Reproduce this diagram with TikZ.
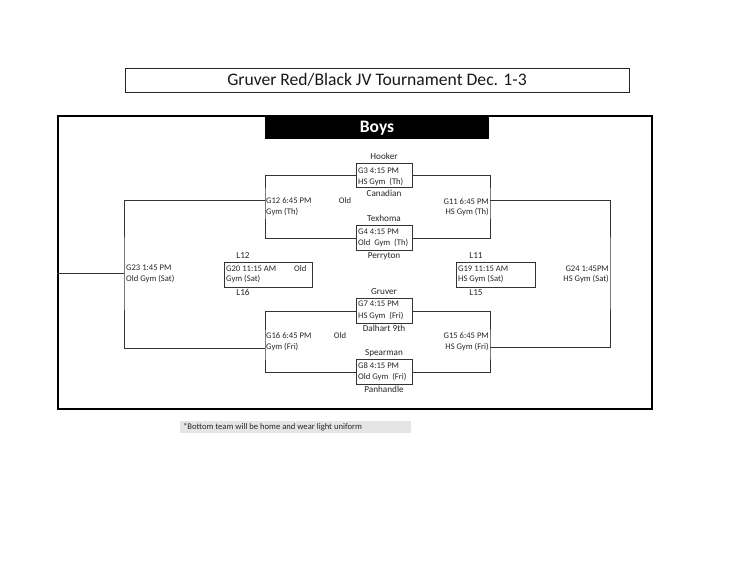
\documentclass[tikz,border=0pt]{standalone}
\usepackage{fontspec}
\setmainfont{Carlito}
\begin{document}
\begin{tikzpicture}[x=1pt,y=-1pt,
  ln/.style={line width=0.9pt, draw=black!80},
  gbox/.style={draw=black!80, line width=0.9pt, anchor=north west, inner sep=0},
  gt/.style={font=\fontsize{8.6}{9}\selectfont, inner sep=0, text height=5.5pt, text depth=0pt, anchor=west, text=black!85},
  gtr/.style={gt, anchor=east},
  team/.style={font=\fontsize{9.2}{10}\selectfont, inner sep=0, text height=5.9pt, text depth=0pt, anchor=center, text=black!85}
]
\useasboundingbox (0,0) rectangle (750,584);
\fill[white] (0,0) rectangle (750,584);
% title
\node[draw=black!85, line width=1.4pt, minimum width=504pt, minimum height=24pt, inner sep=0, anchor=north west] (title) at (125,68) {};
\node[font=\fontsize{17.6}{19}\selectfont, inner sep=0, text=black!90] (titletext) at (377,80) {Gruver Red/Black JV Tournament Dec. 1-3};
% main frame
\node[draw=black, line width=1.8pt, minimum width=594pt, minimum height=293pt, inner sep=0, anchor=north west] (frame) at (57,115) {};
\node[fill=black, minimum width=224pt, minimum height=23pt, inner sep=0, anchor=north west] (boysbar) at (265,116) {};
\node[text=white, font=\bfseries\fontsize{17.5}{19}\selectfont, inner sep=0] (boys) at (377,128) {Boys};
% first-round boxes
\node[gbox, minimum width=56pt, minimum height=24pt] (g3) at (356,163) {};
\node[gbox, minimum width=56pt, minimum height=25pt] (g4) at (356,225) {};
\node[gbox, minimum width=56pt, minimum height=25pt] (g7) at (356,298) {};
\node[gbox, minimum width=56pt, minimum height=25pt] (g8) at (356,359) {};
\node[gbox, minimum width=88pt, minimum height=25pt] (g20) at (224,262) {};
\node[gbox, minimum width=79pt, minimum height=25pt] (g19) at (456,262) {};
% box texts
\node[gt] (g3a) at (358,171) {G3 4:15 PM};
\node[gt] (g3b) at (358,182) {HS Gym\ \ (Th)};
\node[gt] (g4a) at (358,232) {G4 4:15 PM};
\node[gt] (g4b) at (358,243) {Old\ \ Gym\ \ (Th)};
\node[gt] (g7a) at (358,304) {G7 4:15 PM};
\node[gt] (g7b) at (358,316) {HS Gym\ \ (Fri)};
\node[gt] (g8a) at (358,366) {G8 4:15 PM};
\node[gt] (g8b) at (358,377) {Old Gym\ \ (Fri)};
\node[gt] (g20a) at (226,269) {G20 11:15 AM};
\node[gt] (g20o) at (294,269) {Old};
\node[gt] (g20b) at (226,279) {Gym (Sat)};
\node[gt] (g19a) at (458,269) {G19 11:15 AM};
\node[gt] (g19b) at (458,279) {HS Gym (Sat)};
% teams
\node[team] (hooker) at (384,157) {Hooker};
\node[team] (canadian) at (384,194) {Canadian};
\node[team] (texhoma) at (384,219) {Texhoma};
\node[team] (perryton) at (384,256) {Perryton};
\node[team] (gruver) at (384,292) {Gruver};
\node[team] (dalhart) at (384,329) {Dalhart 9th};
\node[team] (spearman) at (384,353) {Spearman};
\node[team] (panhandle) at (384,390) {Panhandle};
\node[team] (l12) at (243,256) {L12};
\node[team] (l16) at (243,293) {L16};
\node[team] (l11) at (476,256) {L11};
\node[team] (l15) at (476,293) {L15};
% bracket coordinates
\coordinate (c12) at (265,200);
\coordinate (c16) at (265,348);
\coordinate (c23) at (124,273);
\coordinate (lend) at (57,273);
\coordinate (c11) at (490,200);
\coordinate (c15) at (490,347);
\coordinate (c24) at (610,273);
% connectors
\draw[ln] (g3.west) -| (c12) |- (g4.west);
\draw[ln] (g7.west) -| (c16) |- (g8.west);
\draw[ln] (c12) -| (c23) |- (c16);
\draw[ln] (c23) -- (lend);
\draw[ln] (g3.east) -| (c11) |- (g4.east);
\draw[ln] (g7.east) -| (c15) |- (g8.east);
\draw[ln] (c11) -| (c24) |- (c15);
% game labels
\node[gt] (g12a) at (266,201) {G12 6:45 PM};
\node[gt] (g12b) at (266,212) {Gym (Th)};
\node[gt, anchor=center] (g12o) at (345,201) {Old};
\node[gt] (g16a) at (266,336) {G16 6:45 PM};
\node[gt] (g16b) at (266,347) {Gym (Fri)};
\node[gt, anchor=center] (g16o) at (340,336) {Old};
\node[gt] (g23a) at (126,268) {G23 1:45 PM};
\node[gt] (g23b) at (126,279) {Old Gym (Sat)};
\node[gtr] (g11a) at (489,202) {G11 6:45 PM};
\node[gtr] (g11b) at (489,212) {HS Gym (Th)};
\node[gtr] (g15a) at (489,336) {G15 6:45 PM};
\node[gtr] (g15b) at (489,347) {HS Gym (Fri)};
\node[gtr] (g24a) at (609,269) {G24 1:45PM};
\node[gtr] (g24b) at (609,279) {HS Gym (Sat)};
% footnote
\node[fill=black!10, minimum width=231pt, minimum height=12pt, inner sep=0, anchor=north west] (notebg) at (180,421) {};
\node[gt, font=\fontsize{8.6}{9}\selectfont] (note) at (183,427) {*Bottom team will be home and wear light uniform};
\end{tikzpicture}
\end{document}
